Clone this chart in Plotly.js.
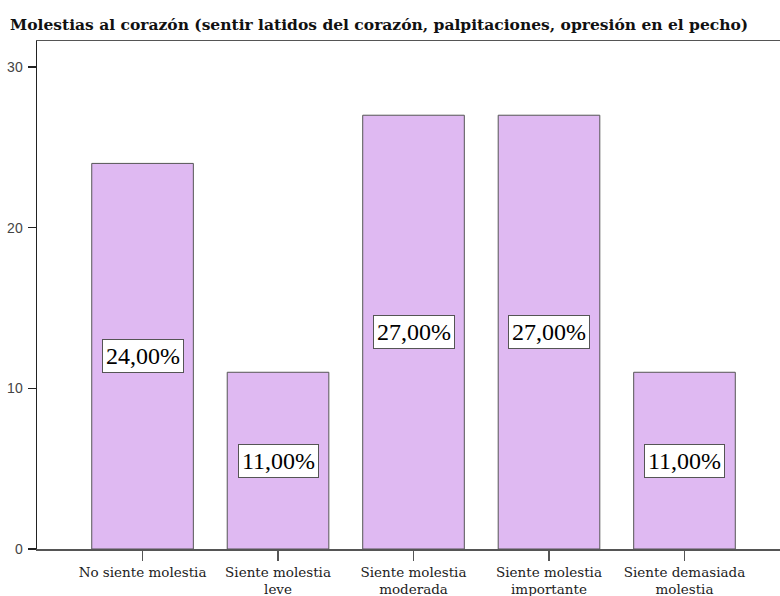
<!DOCTYPE html>
<html>
<head>
<meta charset="utf-8">
<script src="https://cdn.plot.ly/plotly-3.0.1.min.js"></script>
<style>html,body{margin:0;padding:0;background:#fff;}#chart{width:780px;height:596px;}</style>
</head>
<body>
<div id="chart"></div>
<script>
var categories = ["No siente molestia", "Siente molestia<br>leve", "Siente molestia<br>moderada", "Siente molestia<br>importante", "Siente demasiada<br>molestia"];
var values = [24, 11, 27, 27, 11];
var percents = [24, 11, 27, 27, 11];
var yTicks = [0, 10, 20, 30];

var idx = categories.map(function(_, i){ return i; });
var labels = percents.map(function(p){ return p.toFixed(2).replace('.', ',') + '%'; });

var trace = {
  type: 'bar',
  x: idx,
  y: values,
  width: 0.75,
  marker: {color: '#dfb9f2', line: {color: '#555555', width: 1}},
  hoverinfo: 'none'
};

var annotations = idx.map(function(i){
  return {
    x: i, y: values[i] / 2, xref: 'x', yref: 'y',
    text: labels[i], showarrow: false,
    font: {family: 'Liberation Serif, Times New Roman, serif', size: 24, color: '#000'},
    bgcolor: '#ffffff', bordercolor: '#555555', borderwidth: 1, borderpad: 3
  };
});

var layout = {
  width: 780, height: 596,
  margin: {l: 37, r: 0, t: 41, b: 47, pad: 0},
  paper_bgcolor: '#fff', plot_bgcolor: '#fff',
  showlegend: false,
  title: {
    text: '<b>Molestias al corazón (sentir latidos del corazón, palpitaciones, opresión en el pecho)</b>',
    font: {family: 'DejaVu Serif, serif', size: 15.5, color: '#111'},
    x: 10 / 780, xanchor: 'left', xref: 'container', y: 1 - 25 / 596, yref: 'container', yanchor: 'middle'
  },
  xaxis: {
    range: [-0.779, 4.705],
    tickvals: idx, ticktext: categories,
    showgrid: false, zeroline: false,
    showline: true, linecolor: '#555555', linewidth: 1.5, mirror: true,
    ticks: 'outside', ticklen: 10, tickcolor: '#555555', tickwidth: 1.5,
    tickfont: {family: 'DejaVu Serif, serif', size: 13.5, color: '#222'},
    fixedrange: true
  },
  yaxis: {
    range: [0, 31.62],
    tickvals: yTicks,
    showgrid: false, zeroline: false,
    showline: true, linecolor: '#222222', linewidth: 1.5,
    ticks: 'outside', ticklen: 8, tickcolor: '#222222', tickwidth: 1.5,
    tickfont: {family: 'Liberation Sans, Arial, sans-serif', size: 14, color: '#444'},
    ticklabelstandoff: 2,
    fixedrange: true
  },
  annotations: annotations
};

Plotly.newPlot('chart', [trace], layout, {displayModeBar: false, staticPlot: true});
</script>
</body>
</html>
